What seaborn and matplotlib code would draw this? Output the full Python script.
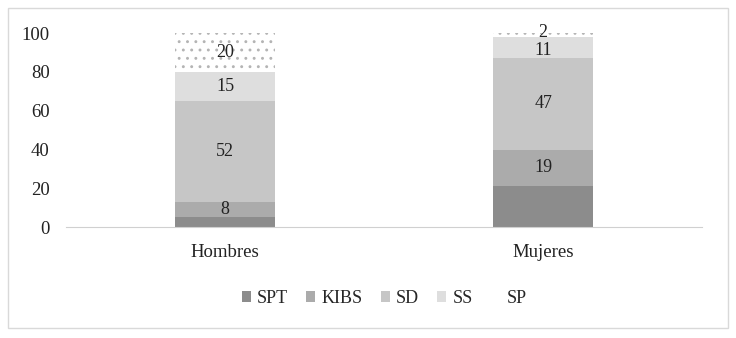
import seaborn as sns
import matplotlib.pyplot as plt
from matplotlib.patches import Rectangle

groups = ['Hombres', 'Mujeres']
series = ['SPT', 'KIBS', 'SD', 'SS', 'SP']
spt = [5, 21]
kibs = [8, 19]
sd = [52, 47]
ss = [15, 11]
sp = [20, 2]
colors = ['#8c8c8c', '#ababab', '#c6c6c6', '#dedede', '#ffffff']
show_labels = [False, True, True, True, True]

sns.set_style('white')
plt.rcParams['font.family'] = ['Liberation Serif', 'DejaVu Serif']
plt.rcParams['hatch.color'] = '#b4b4b4'
plt.rcParams['hatch.linewidth'] = 0.9

fig = plt.figure(figsize=(7.36, 3.38), dpi=100)
ax = fig.add_axes([0.09, 0.328, 0.864, 0.574])

bottom = [0, 0]
for name, vals, col, lab in zip(series, [spt, kibs, sd, ss, sp], colors, show_labels):
    if name == 'SP':
        kw = dict(hatch='..', edgecolor='#b4b4b4', linewidth=0)
    else:
        kw = dict(linewidth=0)
    sns.barplot(x=groups, y=vals, bottom=bottom, color=col, width=0.315,
                label=name, ax=ax, saturation=1, **kw)
    if lab:
        for i, v in enumerate(vals):
            y = bottom[i] + v / 2
            # small top segments in the second bar are nudged apart, as in the source
            if i == 1 and name == 'SS':
                y -= 1.5
            if i == 1 and name == 'SP':
                y += 1.5
            ax.text(i, y, str(v), ha='center', va='center', fontsize=13,
                    color='#222222', clip_on=False)
    bottom = [b + v for b, v in zip(bottom, vals)]

ax.set_xlim(-0.5, 1.5)
ax.set_ylim(0, 100)
ax.set_yticks([0, 20, 40, 60, 80, 100])
ax.tick_params(axis='both', length=0, labelsize=13.5, colors='#222222')
ax.tick_params(axis='y', pad=12)
ax.tick_params(axis='x', pad=12)
ax.set_xlabel('')
ax.set_ylabel('')
for s in ['top', 'right', 'left']:
    ax.spines[s].set_visible(False)
ax.spines['bottom'].set_color('#d0d0d0')

leg = ax.legend(loc='upper center', bbox_to_anchor=(0.5, -0.24), ncol=5,
                frameon=False, fontsize=13, handlelength=0.5, handleheight=0.5,
                handletextpad=0.35, columnspacing=1.0)
for h in leg.legend_handles:
    h.set_hatch(None)

fig.patches.append(Rectangle((0.011, 0.03), 0.978, 0.945, transform=fig.transFigure,
                             fill=False, edgecolor='#d9d9d9', linewidth=1))

fig.savefig('out.png', dpi=100)
